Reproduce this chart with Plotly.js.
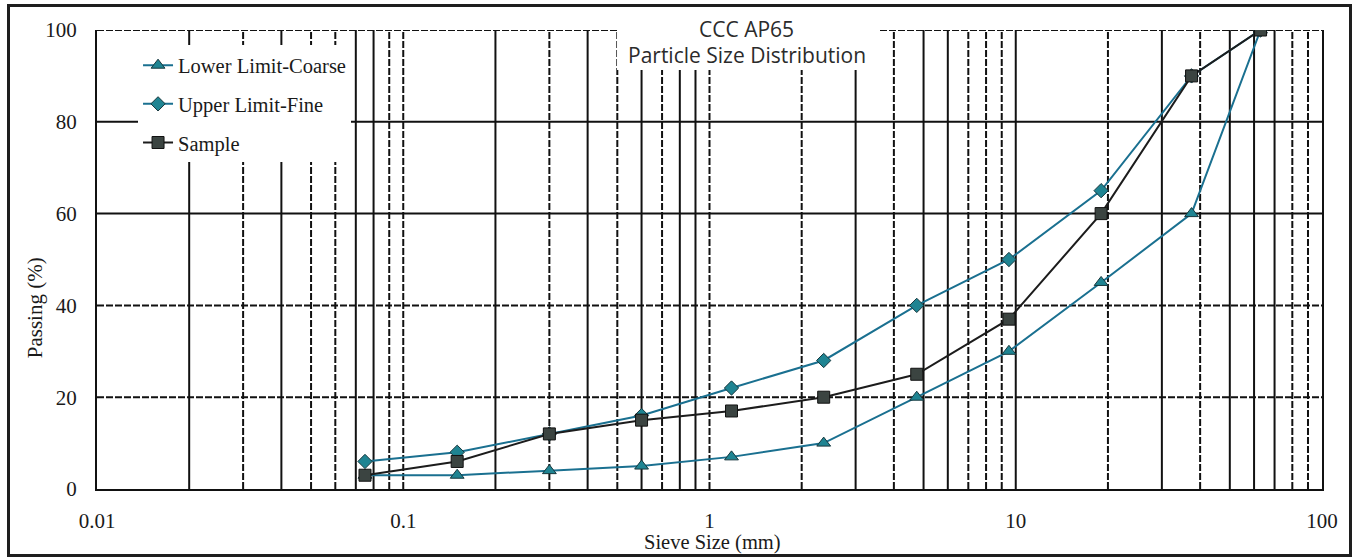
<!DOCTYPE html>
<html>
<head>
<meta charset="utf-8">
<script src="https://cdn.plot.ly/plotly-3.0.1.min.js"></script>
<style>
html,body{margin:0;padding:0;background:#fff;}
#wrap{position:relative;width:1356px;height:559px;}
#chart{position:absolute;left:0;top:0;width:1356px;height:559px;}
#frame{position:absolute;left:7px;top:4px;width:1345px;height:553px;box-sizing:border-box;border:3px solid #1e1e1e;pointer-events:none;}
</style>
</head>
<body>
<div id="wrap"><div id="chart"></div><div id="frame"></div></div>
<script>
// Data
var sieveSizes = [0.075, 0.15, 0.3, 0.6, 1.18, 2.36, 4.75, 9.5, 19, 37.5, 63];
var lowerLimitCoarse = [3, 3, 4, 5, 7, 10, 20, 30, 45, 60, 100];
var upperLimitFine = [6, 8, 12, 16, 22, 28, 40, 50, 65, 90, 100];
var sample = [3, 6, 12, 15, 17, 20, 25, 37, 60, 90, 100];
var xTickVals = [0.01, 0.1, 1, 10, 100];
var xTickText = ['0.01', '0.1', '1', '10', '100'];
var yTickVals = [0, 20, 40, 60, 80, 100];

var teal = '#1a7090';
var markerTeal = '#1f8492';
var gridColor = '#111111';
var serif = 'Liberation Serif, Times New Roman, serif';
var sans = 'Open Sans, Noto Sans, sans-serif';

var traces = [
  {x: sieveSizes, y: lowerLimitCoarse, name: 'Lower Limit-Coarse', mode: 'lines+markers',
   legendgroup: 'a',
   line: {color: teal, width: 2},
   marker: {symbol: 'triangle-up', size: 12, color: markerTeal, line: {color: '#17373d', width: 1}}},
  {x: sieveSizes, y: upperLimitFine, name: 'Upper Limit-Fine', mode: 'lines+markers',
   legendgroup: 'b',
   line: {color: teal, width: 2},
   marker: {symbol: 'diamond', size: 11, color: markerTeal, line: {color: '#17373d', width: 1}}},
  {x: sieveSizes, y: sample, name: 'Sample', mode: 'lines+markers',
   legendgroup: 'c',
   line: {color: '#1c1c1c', width: 2},
   marker: {symbol: 'square', size: 12, color: '#3b4441', line: {color: '#111', width: 1}}}
];

// Gridlines: digits 2..10 of each decade; 's' solid, 'd' dashed
var decades = [0.01, 0.1, 1, 10];
var decadeDash = [
  ['s', 'd', 's', 'd', 'd', 's', 's', 'd', 'd'],
  ['s', 'd', 's', 'd', 's', 'd', 's', 's', 'd'],
  ['d', 's', 'd', 's', 's', 'd', 'd', 'd', 's'],
  ['d', 's', 'd', 's', 's', 's', 'd', 'd', null]
];
var shapes = [];
var dashStyle = '7px,2px';
decades.forEach(function (d, di) {
  for (var k = 2; k <= 10; k++) {
    var style = decadeDash[di][k - 2];
    if (!style) continue; // right border drawn by axis
    var v = d * k;
    shapes.push({type: 'line', xref: 'x', yref: 'paper', x0: v, x1: v, y0: 0, y1: 1, layer: 'below',
      line: {color: gridColor, width: 2, dash: style === 'd' ? dashStyle : 'solid'}});
  }
});
var hGrid = [{v: 20, d: true}, {v: 40, d: true}, {v: 60, d: false}, {v: 80, d: false}, {v: 100, d: true}];
hGrid.forEach(function (g) {
  shapes.push({type: 'line', xref: 'paper', yref: 'y', x0: 0, x1: 1, y0: g.v, y1: g.v, layer: 'below',
    line: {color: gridColor, width: 2, dash: g.d ? dashStyle : 'solid'}});
});
// white box behind the title (masks gridlines)
shapes.push({type: 'rect', xref: 'paper', yref: 'paper', x0: 0.4245, x1: 0.6376, y0: 0.9129, y1: 1.01,
  layer: 'above', fillcolor: '#ffffff', line: {width: 0}});

var layout = {
  width: 1356, height: 559,
  margin: {l: 97, r: 34, t: 30, b: 70},
  paper_bgcolor: '#ffffff', plot_bgcolor: '#ffffff',
  showlegend: true,
  font: {family: serif, color: '#1a1a1a', size: 20},
  xaxis: {
    type: 'log', range: [-2, 2],
    tickvals: xTickVals, ticktext: xTickText,
    showgrid: false, zeroline: false,
    showline: true, linecolor: gridColor, linewidth: 2, mirror: false,
    ticks: '', ticklabelstandoff: 12,
    tickfont: {family: serif, size: 21, color: '#1a1a1a'}
  },
  yaxis: {
    range: [0, 100], tickvals: yTickVals,
    showgrid: false, zeroline: false,
    showline: true, linecolor: gridColor, linewidth: 2, mirror: true,
    ticks: '', ticklabelstandoff: 14,
    tickfont: {family: serif, size: 21, color: '#1a1a1a'}
  },
  legend: {
    x: 0.0335, y: 0.9665, xanchor: 'left', yanchor: 'top',
    bgcolor: '#ffffff', borderwidth: 0,
    traceorder: 'grouped', tracegroupgap: 9,
    font: {family: serif, size: 20.5, color: '#1a1a1a'}
  },
  shapes: shapes,
  annotations: [
    {xref: 'paper', yref: 'paper', x: 0.5306, y: 1, xanchor: 'center', yanchor: 'middle', yshift: 1,
     text: 'CCC AP65', showarrow: false,
     font: {family: sans, size: 21, color: '#2b2b2b'}},
    {xref: 'paper', yref: 'paper', x: 0.5306, y: 1, xanchor: 'center', yanchor: 'middle', yshift: -25,
     text: 'Particle Size Distribution', showarrow: false,
     font: {family: sans, size: 21, color: '#2b2b2b'}},
    {xref: 'paper', yref: 'paper', x: -0.051, y: 0.395, xanchor: 'center', yanchor: 'middle',
     text: 'Passing (%)', textangle: -90, showarrow: false,
     font: {family: serif, size: 21, color: '#1a1a1a'}},
    {xref: 'paper', yref: 'paper', x: 0.5024, y: -0.117, xanchor: 'center', yanchor: 'middle',
     text: 'Sieve Size (mm)', showarrow: false,
     font: {family: serif, size: 20.5, color: '#1a1a1a'}}
  ]
};

Plotly.newPlot('chart', traces, layout, {displayModeBar: false, staticPlot: true});
</script>
</body>
</html>
